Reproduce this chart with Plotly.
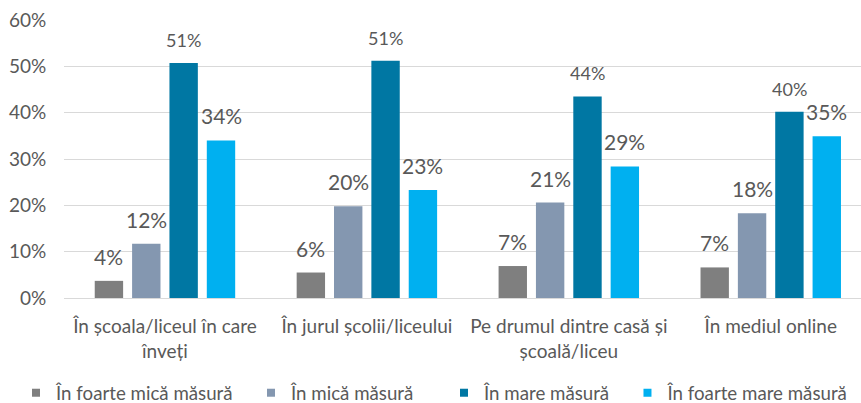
import plotly.graph_objects as go

categories = ["În școala/liceul în care<br>înveți", "În jurul școlii/liceului",
              "Pe drumul dintre casă și<br>școală/liceu", "În mediul online"]
series_names = ["În foarte mică măsură", "În mică măsură", "În mare măsură", "În foarte mare măsură"]
v_foarte_mica = [3.7, 5.5, 6.9, 6.6]
v_mica = [11.7, 19.8, 20.6, 18.3]
v_mare = [50.7, 51.2, 43.5, 40.2]
v_foarte_mare = [34.0, 23.3, 28.4, 34.9]
labels_foarte_mica = ["4%", "6%", "7%", "7%"]
labels_mica = ["12%", "20%", "21%", "18%"]
labels_mare = ["51%", "51%", "44%", "40%"]
labels_foarte_mare = ["34%", "23%", "29%", "35%"]

values = [v_foarte_mica, v_mica, v_mare, v_foarte_mare]
labels = [labels_foarte_mica, labels_mica, labels_mare, labels_foarte_mare]
colors = ["#7f7f7f", "#8497b0", "#0077a3", "#00b0f0"]
label_sizes = [21, 21, 18, 21]

FONT = "Lato, 'Liberation Sans', sans-serif"
TXT = "#595959"
BARGAP = 0.26
GROUPGAP = 0.24

fig = go.Figure()
for name, vals, col in zip(series_names, values, colors):
    fig.add_trace(go.Bar(name=name, x=categories, y=vals, marker=dict(color=col, line=dict(width=0)),
                         hoverinfo="skip", showlegend=False))

# legend entries (small square markers), one legend box each
legend_ids = ["legend", "legend2", "legend3", "legend4"]
legend_x = [-0.0602, 0.2346, 0.4768, 0.707]
for name, col, lid in zip(series_names, colors, legend_ids):
    fig.add_trace(go.Scatter(name=name, x=[None], y=[None], mode="markers",
                             marker=dict(symbol="square", size=8, color=col),
                             legend=lid, showlegend=True, hoverinfo="skip"))

# data labels above bars
n = len(series_names)
slot = (1 - BARGAP) / n
for si in range(n):
    off = -(1 - BARGAP) / 2 + slot * (si + 0.5)
    for ci in range(len(categories)):
        fig.add_annotation(x=ci + off, y=values[si][ci], xref="x", yref="y", text=labels[si][ci],
                           showarrow=False, yanchor="bottom", yshift=10,
                           font=dict(family=FONT, size=label_sizes[si], color=TXT))

legend_common = dict(orientation="h", xanchor="left", y=-0.342, yanchor="middle",
                     font=dict(family=FONT, size=18.7, color=TXT), itemwidth=30,
                     bgcolor="rgba(0,0,0,0)", borderwidth=0)
layout_legends = {}
for lid, lx in zip(legend_ids, legend_x):
    layout_legends[lid] = dict(legend_common, x=lx)

fig.update_layout(
    barmode="group", bargap=BARGAP, bargroupgap=GROUPGAP,
    width=861, height=403, margin=dict(l=64, r=0, t=20, b=105, autoexpand=False),
    paper_bgcolor="white", plot_bgcolor="white",
    font=dict(family=FONT, color=TXT),
    showlegend=True,
    **layout_legends,
)
fig.update_yaxes(range=[0, 60], dtick=10, ticksuffix="%", gridcolor="#d9d9d9", gridwidth=1,
                 zeroline=False, showline=False, ticks="outside", ticklen=13, tickcolor="rgba(0,0,0,0)",
                 tickfont=dict(family=FONT, size=19, color=TXT), automargin=False)
fig.update_xaxes(range=[-0.5, 3.447], showline=True, linecolor="#d9d9d9", ticks="outside", ticklen=11,
                 tickcolor="rgba(0,0,0,0)", tickfont=dict(family=FONT, size=19, color=TXT),
                 automargin=False)

fig.write_html("out.html", config={"displayModeBar": False},
               post_script="document.body.style.margin='0';")
